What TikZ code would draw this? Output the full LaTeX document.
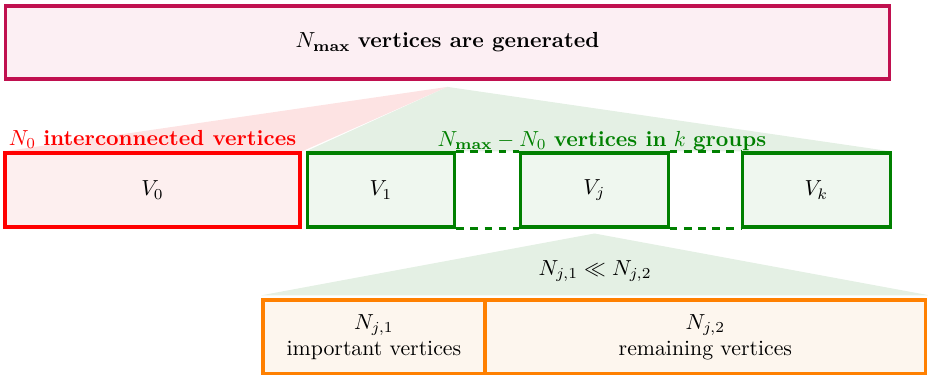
\documentclass[tikz,border=0pt]{standalone}
\usepackage{tikz}
\usetikzlibrary{positioning, calc, backgrounds}
\usepackage{amsmath}
\usepackage{xcolor}
\definecolor{genborder}{HTML}{C0104F}
\definecolor{genfill}{HTML}{FCEFF3}
\definecolor{vzred}{HTML}{FF0000}
\definecolor{vzfill}{HTML}{FDEFEF}
\definecolor{vzfan}{HTML}{FDE3E3}
\definecolor{grpgreen}{HTML}{008000}
\definecolor{grpfill}{HTML}{EFF7EF}
\definecolor{grpfan}{HTML}{E4F0E4}
\definecolor{partorange}{HTML}{FF8000}
\definecolor{partfill}{HTML}{FDF6EE}

\begin{document}
\begin{tikzpicture}[
    box/.style={draw, line width=1.5pt, minimum height=1.19cm, inner sep=2pt},
    grp/.style={box, draw=grpgreen, fill=grpfill, minimum width=2.38cm},
    part/.style={box, draw=partorange, fill=partfill, align=center},
    gap/.style={grpgreen, line width=1.5pt, dash pattern=on 3.5pt off 3pt}]
    \useasboundingbox (0,0) rectangle (14.97,-6.08);
    \node[box, draw=genborder, fill=genfill, minimum width=14.27cm, minimum height=1.18cm]
      (gen) at (7.218,-0.685) {$N_{\mathbf{max}}$ \textbf{vertices are generated}};
    \node[box, draw=vzred, fill=vzfill, minimum width=4.76cm] (V0) at (2.46,-3.065) {$V_0$};
    \node[grp] (V1) at (6.145,-3.065) {$V_1$};
    \node[grp] (Vj) at (9.589,-3.065) {$V_j$};
    \node[grp] (Vk) at (13.17,-3.065) {$V_k$};
    \draw[gap] (V1.north east) -- (Vj.north west);
    \draw[gap] (V1.south east) -- (Vj.south west);
    \draw[gap] (Vj.north east) -- (Vk.north west);
    \draw[gap] (Vj.south east) -- (Vk.south west);
    \node[part, minimum width=3.58cm] (imp) at (6.032,-5.435) {$N_{j,1}$\\important vertices};
    \node[part, minimum width=7.11cm] (rem) at (11.379,-5.435) {$N_{j,2}$\\remaining vertices};
    \node[text=vzred, anchor=south, inner sep=1pt] (vzlbl) at (V0.north)
      {$N_0$ \textbf{interconnected vertices}};
    \node[text=grpgreen, anchor=south, inner sep=1pt] (grplbl) at (9.71,-2.47)
      {$N_{\mathbf{max}} - N_0$ \textbf{vertices in} $k$ \textbf{groups}};
    \node (ratio) at (9.6,-4.37) {$N_{j,1} \ll N_{j,2}$};
    \begin{scope}[on background layer]
      \coordinate (apex) at ($(gen.south)+(0,-0.1)$);
      \fill[vzfan] (apex) -- (V0.north west) -- (V0.north east) -- cycle;
      \fill[grpfan] (apex) -- (V1.north west) -- (Vk.north east) -- cycle;
      \fill[grpfan] ($(Vj.south)+(0,-0.08)$) -- ($(imp.north west)+(0,0.05)$)
        -- ($(rem.north east)+(0.03,0.05)$) -- cycle;
    \end{scope}
\end{tikzpicture}
\end{document}
